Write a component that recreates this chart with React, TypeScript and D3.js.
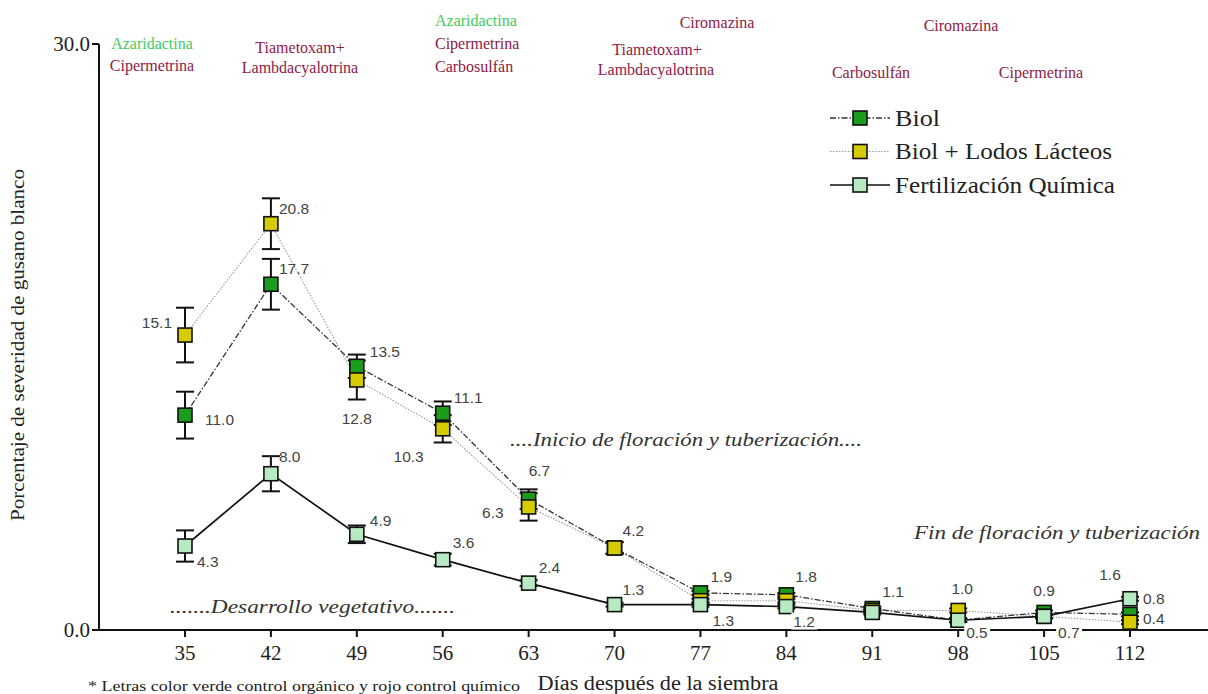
import React from 'react';
import * as d3 from 'd3';

// ---------- data ----------
const days = [35, 42, 49, 56, 63, 70, 77, 84, 91, 98, 105, 112];
const biol = [11.0, 17.7, 13.5, 11.1, 6.7, 4.2, 1.9, 1.8, 1.1, 0.5, 0.9, 0.8];
const biolErr = [1.2, 1.3, 0.6, 0.6, 0.5, 0.3, 0.1, 0.1, 0.1, 0.1, 0.1, 0.1];
const biolLodos = [15.1, 20.8, 12.8, 10.3, 6.3, 4.2, 1.5, 1.5, 1.0, 1.0, 0.7, 0.4];
const biolLodosErr = [1.4, 1.3, 1.0, 0.7, 0.7, 0.3, 0.1, 0.1, 0.1, 0.1, 0.1, 0.1];
const quimica = [4.3, 8.0, 4.9, 3.6, 2.4, 1.3, 1.3, 1.2, 0.9, 0.5, 0.7, 1.6];
const quimicaErr = [0.8, 0.9, 0.45, 0.3, 0.15, 0.1, 0.1, 0.1, 0.1, 0.1, 0.1, 0.1];
const yTicks = [0, 30];
const seriesNames = ['Biol', 'Biol + Lodos Lácteos', 'Fertilización Química'];

const xTitle = 'Días después de la siembra';
const yTitle = 'Porcentaje de severidad de gusano blanco';
const footnote = '* Letras color verde control orgánico y rojo control químico';
const phaseTexts = [
  '....Inicio de floración y tuberización....',
  'Fin de floración y tuberización',
  '.......Desarrollo vegetativo.......',
];
// treatments: [text, kind] kind g = organic (green), r = chemical (red)
const treatments: [string, string][] = [
  ['Azaridactina', 'g'], ['Cipermetrina', 'r'],
  ['Tiametoxam+', 'r'], ['Lambdacyalotrina', 'r'],
  ['Azaridactina', 'g'], ['Cipermetrina', 'r'], ['Carbosulfán', 'r'],
  ['Ciromazina', 'r'],
  ['Tiametoxam+', 'r'], ['Lambdacyalotrina', 'r'],
  ['Ciromazina', 'r'],
  ['Carbosulfán', 'r'],
  ['Cipermetrina', 'r'],
];

// ---------- layout ----------
const W = 1208;
const H = 694;
const treatmentPos: [number, number, string][] = [
  [152, 49, 'middle'], [152, 71, 'middle'],
  [300, 53, 'middle'], [300, 73, 'middle'],
  [435, 26, 'start'], [435, 49, 'start'], [435, 72, 'start'],
  [717, 28, 'middle'],
  [657, 55, 'middle'], [656, 75, 'middle'],
  [961, 31, 'middle'],
  [871, 78, 'middle'],
  [1041, 78, 'middle'],
];
const legendTextWidths = [45, 217, 220];
type LP = [number, number, string?, boolean?] | null;
const biolLabelPos: LP[] = [
  [20, 4], [8, -16], [13, -15], [11, -16], [0, -29], [8, -17],
  [10, -16], [9, -18], [10, -17], null, [0, -22, 'middle'], [13, -16],
];
const biolLodosLabelPos: LP[] = [
  [-13, -13, 'end'], [8, -15], [0, 39, 'middle'], [-19, 28, 'end'], [-25, 6, 'end'], null,
  null, null, null, [4, -22, 'middle'], null, [13, -4],
];
const quimicaLabelPos: LP[] = [
  [12, 15], [8, -17], [13, -14], [10, -17], [10, -16], [8, -15],
  [12, 16], [7, 15, 'start', true], null, [8, 12, 'start', true], [14, 16, 'start', true], [-20, -24, 'middle'],
];

const GREEN_TXT = '#3fcc5c';
const RED_TXT = '#8e2046';
const serif = '"Liberation Serif", "Times New Roman", serif';
const sans = '"Liberation Sans", Arial, sans-serif';

const x = d3.scaleLinear().domain([35, 112]).range([185, 1130]);
const y = d3.scaleLinear().domain([0, 30]).range([630, 44]);
const AX0 = 99;

const seriesDefs = [
  { name: seriesNames[0], values: biol, err: biolErr, labels: biolLabelPos, fill: '#1c9c1c', stroke: '#333', width: 1.3, dash: '6,2,1.5,2' },
  { name: seriesNames[1], values: biolLodos, err: biolLodosErr, labels: biolLodosLabelPos, fill: '#d6cb00', stroke: '#9a9a9a', width: 1.1, dash: '1.5,1.5' },
  { name: seriesNames[2], values: quimica, err: quimicaErr, labels: quimicaLabelPos, fill: '#b7eac3', stroke: '#111', width: 1.7, dash: undefined as string | undefined },
];

const MS = 14;

export default function App() {
  const line = d3.line<number>().x((_, i) => x(days[i])).y((v) => y(v));
  return (
    <svg width={W} height={H} style={{ position: 'absolute', left: 0, top: 0, background: '#fff' }}>
      <rect width={W} height={H} fill="#fff" />
      {/* axes */}
      <line x1={AX0} x2={AX0} y1={y(30)} y2={y(0)} stroke="#111" strokeWidth={2} />
      <line x1={AX0 - 1} x2={W} y1={y(0)} y2={y(0)} stroke="#111" strokeWidth={2} />
      {yTicks.map((t) => (
        <g key={t}>
          <line x1={AX0 - 7} x2={AX0} y1={y(t)} y2={y(t)} stroke="#111" strokeWidth={2} />
          <text x={AX0 - 9} y={y(t) + 7} textAnchor="end" fontFamily={serif} fontSize={21} fill="#222">
            {t.toFixed(1)}
          </text>
        </g>
      ))}
      {days.map((d) => (
        <g key={d}>
          <line x1={x(d)} x2={x(d)} y1={y(0)} y2={y(0) + 7} stroke="#111" strokeWidth={2} />
          <text x={x(d)} y={y(0) + 30} textAnchor="middle" fontFamily={serif} fontSize={21} fill="#222">
            {d}
          </text>
        </g>
      ))}
      <text x={658} y={690} textAnchor="middle" fontFamily={serif} fontSize={20} fill="#222" textLength={241} lengthAdjust="spacingAndGlyphs">
        {xTitle}
      </text>
      <text transform={`translate(24,345) rotate(-90)`} textAnchor="middle" fontFamily={serif} fontSize={19} fill="#222" textLength={352} lengthAdjust="spacingAndGlyphs">
        {yTitle}
      </text>
      <text x={88} y={691} fontFamily={serif} fontSize={14.5} fill="#222" textLength={432} lengthAdjust="spacingAndGlyphs">
        {footnote}
      </text>
      {/* treatments */}
      {treatments.map(([t, k], i) => (
        <text key={i} x={treatmentPos[i][0]} y={treatmentPos[i][1]} textAnchor={treatmentPos[i][2]} fontFamily={serif} fontSize={16} fill={k === 'g' ? GREEN_TXT : RED_TXT}>
          {t}
        </text>
      ))}
      {/* phase texts */}
      <text x={510} y={446} fontFamily={serif} fontStyle="italic" fontSize={19} fill="#333" textLength={352} lengthAdjust="spacingAndGlyphs">{phaseTexts[0]}</text>
      <text x={914} y={539} fontFamily={serif} fontStyle="italic" fontSize={19} fill="#333" textLength={286} lengthAdjust="spacingAndGlyphs">{phaseTexts[1]}</text>
      <text x={170} y={613} fontFamily={serif} fontStyle="italic" fontSize={19} fill="#333" textLength={285} lengthAdjust="spacingAndGlyphs">{phaseTexts[2]}</text>
      {/* lines */}
      {[1, 0, 2].map((si) => {
        const s = seriesDefs[si];
        return <path key={si} d={line(s.values) || ''} fill="none" stroke={s.stroke} strokeWidth={s.width} strokeDasharray={s.dash} />;
      })}
      {/* error bars */}
      {seriesDefs.map((s, si) =>
        s.values.map((v, i) => {
          const e = s.err[i];
          const cx = x(days[i]);
          return (
            <g key={`e${si}-${i}`} stroke="#111" strokeWidth={2}>
              <line x1={cx} x2={cx} y1={y(v + e)} y2={y(v - e)} />
              <line x1={cx - 9} x2={cx + 9} y1={y(v + e)} y2={y(v + e)} />
              <line x1={cx - 9} x2={cx + 9} y1={y(v - e)} y2={y(v - e)} />
            </g>
          );
        })
      )}
      {/* markers */}
      {seriesDefs.map((s, si) =>
        s.values.map((v, i) => (
          <rect key={`m${si}-${i}`} x={x(days[i]) - MS / 2} y={y(v) - MS / 2} width={MS} height={MS} fill={s.fill} stroke="#111" strokeWidth={1.6} />
        ))
      )}
      {/* value labels */}
      {seriesDefs.map((s, si) =>
        s.values.map((v, i) => {
          const p = s.labels[i];
          if (!p) return null;
          const lx = x(days[i]) + p[0];
          const ly = y(v) + p[1];
          const anchor = p[2] || 'start';
          const txt = v.toFixed(1);
          const w = 26;
          const bx = anchor === 'start' ? lx - 2 : anchor === 'end' ? lx - w + 2 : lx - w / 2;
          return (
            <g key={`l${si}-${i}`}>
              {p[3] && <rect x={bx} y={ly - 9} width={w} height={17} fill="#fff" />}
              <text x={lx} y={ly + 5.5} textAnchor={anchor} fontFamily={sans} fontSize={15.5} fill="#444">
                {txt}
              </text>
            </g>
          );
        })
      )}
      {/* legend */}
      {seriesDefs.map((s, si) => {
        const ly = 118 + si * 33.5;
        return (
          <g key={`lg${si}`}>
            <line x1={830} x2={890} y1={ly} y2={ly} stroke={s.stroke} strokeWidth={s.width} strokeDasharray={s.dash} />
            <rect x={860 - MS / 2} y={ly - MS / 2} width={MS} height={MS} fill={s.fill} stroke="#111" strokeWidth={1.6} />
            <text x={895} y={ly + 7.5} fontFamily={serif} fontSize={22.5} fill="#222" textLength={legendTextWidths[si]} lengthAdjust="spacingAndGlyphs">
              {s.name}
            </text>
          </g>
        );
      })}
    </svg>
  );
}
